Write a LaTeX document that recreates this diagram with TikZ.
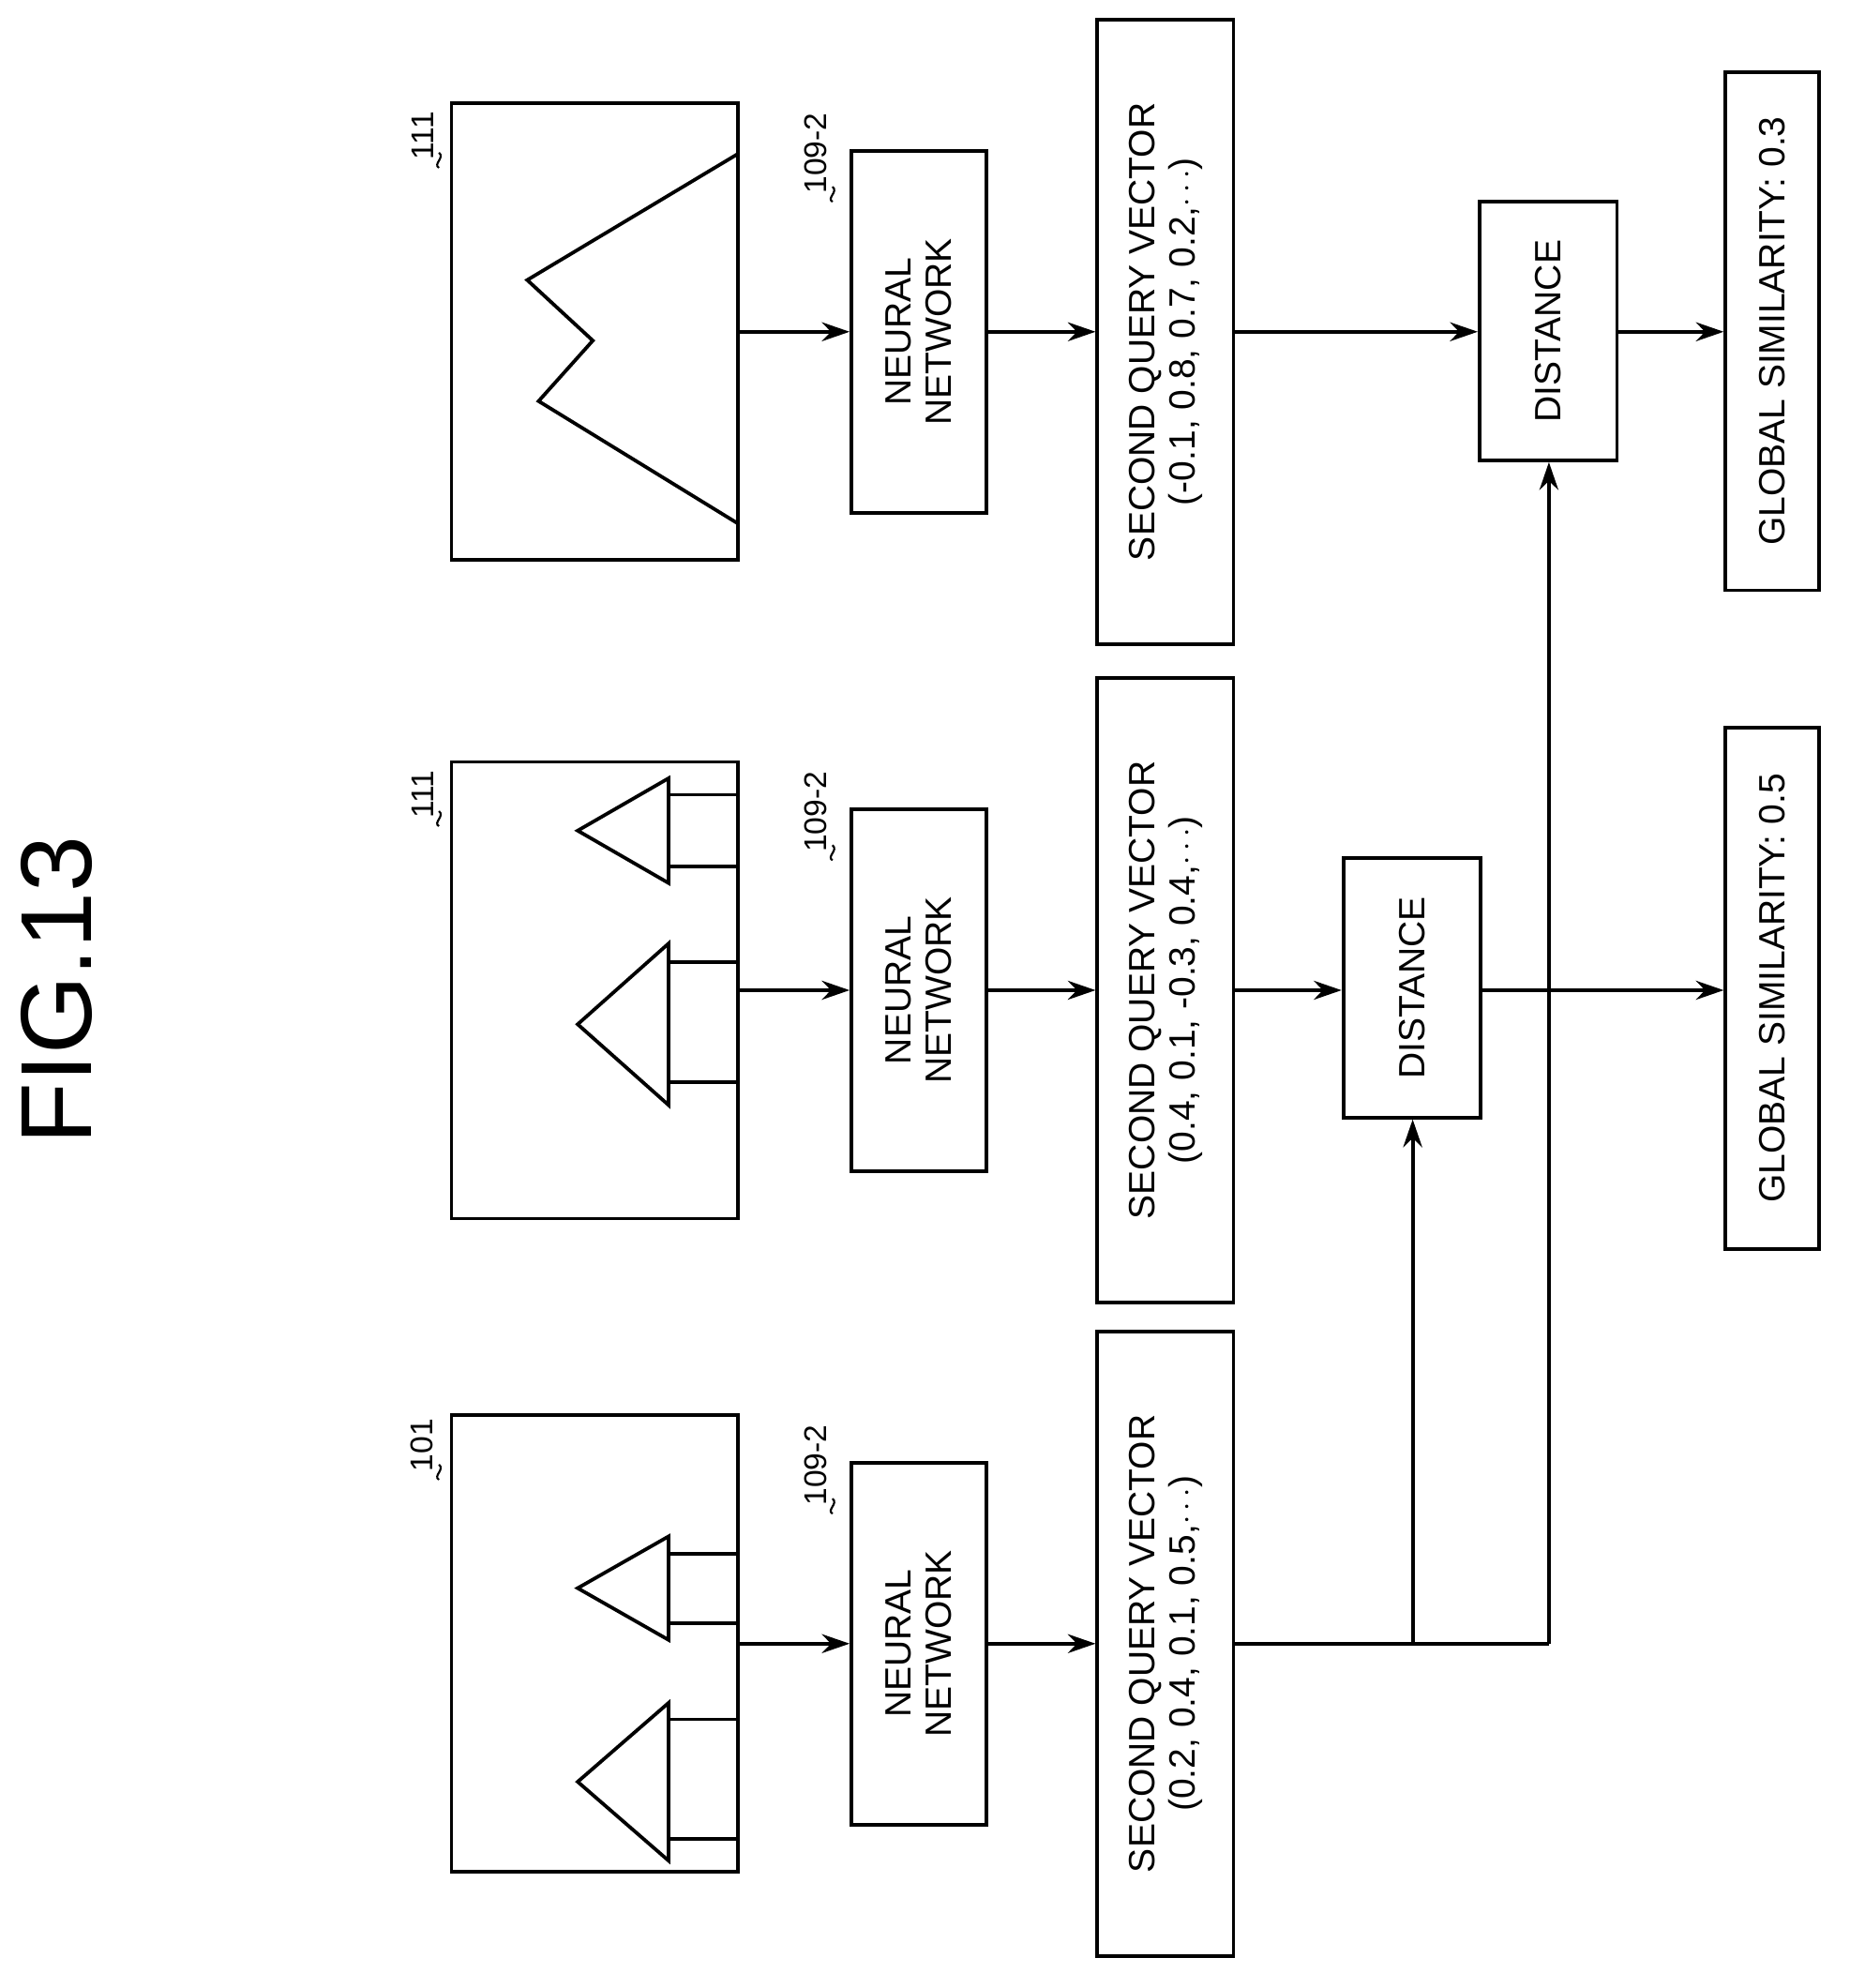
\documentclass[tikz,border=0pt]{standalone}
\usepackage{fontspec}
\setmainfont{Liberation Sans}
\usetikzlibrary{arrows.meta}
\begin{document}
\begin{tikzpicture}[x=1pt,y=-1pt,line width=2.8pt,
  box/.style={draw,rectangle,inner sep=0pt},
  lbl/.style={rotate=90,font=\fontsize{29}{32}\selectfont,align=center},
  ref/.style={rotate=90,font=\fontsize{25}{28}\selectfont,anchor=south west,inner sep=0pt},
  arr/.style={-{Stealth[length=22pt,width=15pt]}},
  sq/.style={line width=1.6pt}]
\useasboundingbox (0,0) rectangle (1466,1576);
\node[rotate=90,font=\fontsize{80}{82}\selectfont] (title) at (45,785) {FIG.13};
\newcommand\sqg[2]{\draw[sq] (#1,#2) .. controls (#1-5,#2-3) and (#1+5,#2-8) .. (#1,#2-12);}
\foreach \c/\yc/\im/\vec/\nm in {3/263/111/{(-0.1, 0.8, 0.7, 0.2,$\cdots$)}/c,2/785/111/{(0.4, 0.1, -0.3, 0.4,$\cdots$)}/b,1/1303/101/{(0.2, 0.4, 0.1, 0.5,$\cdots$)}/a}{
  \node[box,minimum width=227pt,minimum height=362pt] (img\nm) at (471.5,\yc) {};
  \node[box,minimum height=107pt,minimum width=287pt,lbl] (nn\nm) at (728.5,\yc) {NEURAL\\NETWORK};
  \node[box,minimum height=108pt,minimum width=495pt,lbl] (sqv\nm) at (924,\yc) {SECOND QUERY VECTOR\\\vec};
  \draw[arr] (img\nm.east|-0,\yc) -- (nn\nm.north|-0,\yc);
  \draw[arr] (nn\nm.south|-0,\yc) -- (sqv\nm.north|-0,\yc);
  \node[ref] (r\nm) at (345,\yc-135) {\im};
  \sqg{348}{\yc-130}
  \node[ref] (n\nm) at (657,\yc-108) {109-2};
  \sqg{660}{\yc-103}
}
\draw (585,122) -- (418,222) -- (470,270) -- (427,318) -- (585,415);
\foreach \ta/\tb/\la/\lb in {617/700/630/687,748/876/763/858,1218/1300/1232/1287,1350/1475/1363/1458}{
  \draw (530,\ta) -- (458,{(\ta+\tb)/2}) -- (530,\tb) -- cycle;
  \draw (530,\la) -- (585,\la) (530,\lb) -- (585,\lb);
}
\node[box,minimum height=109pt,minimum width=205pt,lbl] (d3) at (1227.5,262.5) {DISTANCE};
\node[box,minimum height=109pt,minimum width=206pt,lbl] (d2) at (1119.5,783) {DISTANCE};
\node[box,minimum height=74pt,minimum width=411pt,lbl] (g3) at (1405,262.5) {GLOBAL SIMILARITY: 0.3};
\node[box,minimum height=74pt,minimum width=413pt,lbl] (g2) at (1405,783.5) {GLOBAL SIMILARITY: 0.5};
\coordinate (j1) at (1120,1303);
\coordinate (j2) at (1228,1303);
\draw[arr] (sqvc.south|-0,263) -- (d3.north|-0,263);
\draw[arr] (d3.south|-0,263) -- (g3.north|-0,263);
\draw[arr] (sqvb.south|-0,785) -- (d2.north|-0,785);
\draw[arr] (d2.south|-0,785) -- (g2.north|-0,785);
\draw (sqva.south|-0,1303) -- (j2);
\draw[arr] (j1) -- (d2.west-|j1);
\draw[arr] (j2) -- (d3.west-|j2);
\end{tikzpicture}
\end{document}
